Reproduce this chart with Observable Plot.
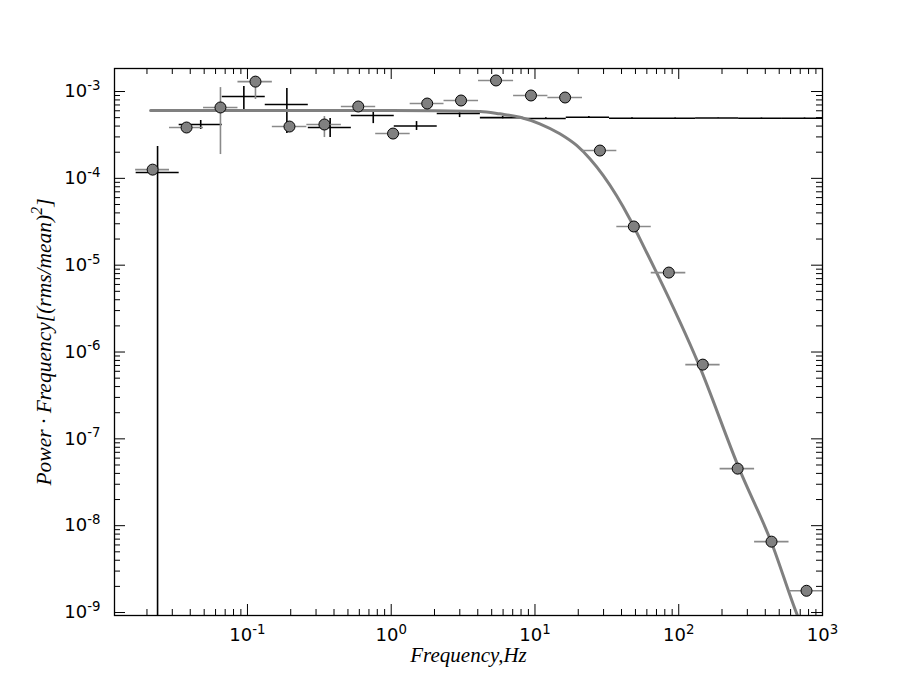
<!DOCTYPE html>
<html><head><meta charset="utf-8">
<script src="https://cdn.jsdelivr.net/npm/d3@7"></script>
<script src="https://cdn.jsdelivr.net/npm/@observablehq/plot@0.6"></script>
<style>html,body{margin:0;padding:0;background:#fff;overflow:hidden}#chart svg{display:block}</style>
</head><body><div id="chart"></div>
<script>
// ---- gray series (filled circles) ----
const grayFreq   = [0.0219,0.0377,0.0649,0.1137,0.196,0.343,0.590,1.03,1.78,3.06,5.36,9.38,16.2,28.3,48.7,85.3,147,257,442,774];
const grayPower  = [1.26e-4,3.85e-4,6.55e-4,1.30e-3,3.95e-4,4.17e-4,6.72e-4,3.28e-4,7.27e-4,7.88e-4,1.34e-3,9.0e-4,8.53e-4,2.09e-4,2.79e-5,8.22e-6,7.16e-7,4.54e-8,6.55e-9,1.78e-9];
const grayLo     = [1.10e-4,3.6e-4,1.88e-4,8.09e-4,3.6e-4,2.95e-4,6.3e-4,3.1e-4,6.95e-4,7.6e-4,1.30e-3,8.8e-4,8.35e-4,2.05e-4,2.74e-5,8.1e-6,7.05e-7,4.47e-8,6.45e-9,1.75e-9];
const grayHi     = [1.40e-4,4.1e-4,1.11e-3,1.49e-3,4.3e-4,5.15e-4,7.1e-4,3.45e-4,7.6e-4,8.15e-4,1.38e-3,9.2e-4,8.7e-4,2.13e-4,2.84e-5,8.35e-6,7.27e-7,4.61e-8,6.65e-9,1.81e-9];
const grayEdges  = [0.01668,0.0287,0.0495,0.0859,0.149,0.259,0.450,0.780,1.355,2.33,4.05,7.10,12.3,21.4,37.1,64.4,112,194,337,585,1016];

// ---- black series (crosses) ----
const blackFreq  = [0.0237,0.0473,0.0944,0.188,0.376,0.750,1.50,2.99,5.96,11.9,23.7,47.3,94.4,188,376,750];
const blackPower = [1.17e-4,4.17e-4,8.75e-4,7.08e-4,3.85e-4,5.29e-4,4.01e-4,5.58e-4,5.01e-4,4.89e-4,5.06e-4,4.93e-4,4.92e-4,4.95e-4,4.93e-4,4.92e-4];
const blackLo    = [1e-15,3.65e-4,5.73e-4,3.28e-4,2.95e-4,4.27e-4,3.56e-4,5.01e-4,4.85e-4,4.80e-4,4.98e-4,4.87e-4,4.88e-4,4.91e-4,4.90e-4,4.89e-4];
const blackHi    = [2.32e-4,4.64e-4,1.14e-3,1.08e-3,4.89e-4,5.73e-4,4.51e-4,5.73e-4,5.18e-4,4.98e-4,5.14e-4,4.99e-4,4.96e-4,4.99e-4,4.96e-4,4.95e-4];
const blackEdges = [0.01682,0.0335,0.0668,0.133,0.265,0.528,1.05,2.09,4.17,8.30,16.5,33.0,65.7,131,261,519,1035];

// ---- fitted model curve ----
const fitFreq  = [0.0212,1.0,4.15,5.71,7.87,10.8,14.9,19.5,24.1,29.8,36.9,45.7,59.7,70.0,138,265,442,670,762];
const fitPower = [6.04e-4,6.04e-4,5.89e-4,5.53e-4,5.06e-4,4.25e-4,3.26e-4,2.39e-4,1.68e-4,1.08e-4,6.34e-5,3.41e-5,1.41e-5,8.28e-6,7.16e-7,4.42e-8,6.37e-9,9.2e-10,5.5e-10];

// ---- axes ----
const xMajor = [0.1,1,10,100,1000];
const yMajor = [1e-9,1e-8,1e-7,1e-6,1e-5,1e-4,1e-3];
const xDomain = [0.01189,1000];
const yDomain = [9.24e-10,1.841e-3];
const xLabel = "Frequency,Hz";
const yLabel = "Power · Frequency[(rms/mean)^2]";

const gray = grayFreq.map((f,i)=>({f,p:grayPower[i],lo:grayLo[i],hi:grayHi[i],x1:grayEdges[i],x2:grayEdges[i+1]}));
const black = blackFreq.map((f,i)=>({f,p:blackPower[i],lo:blackLo[i],hi:blackHi[i],x1:blackEdges[i],x2:blackEdges[i+1]}));
const fit = fitFreq.map((f,i)=>({f,p:fitPower[i]}));

const xMinor = d3.scaleLog().domain(xDomain).ticks().filter(v=>!xMajor.some(m=>Math.abs(m-v)/m<1e-9));
const yMinor = d3.scaleLog().domain(yDomain).ticks().filter(v=>!yMajor.some(m=>Math.abs(m-v)/m<1e-9));

const W = 913, H = 685, mT = 68, mR = 91, mB = 70, mL = 114;
const PW = W - mL - mR, PH = H - mT - mB;
const major = 11, minor = 6;
const expFmt = d => "10^" + Math.round(Math.log10(d));

const chart = Plot.plot({
  width: W, height: H,
  marginTop: mT, marginRight: mR, marginBottom: mB, marginLeft: mL,
  style: {fontFamily: "DejaVu Sans", fontSize: "18px", background: "#fff", color: "black"},
  x: {type: "log", domain: xDomain},
  y: {type: "log", domain: yDomain},
  marks: [
    // black crosses
    Plot.ruleY(black, {y: "p", x1: "x1", x2: "x2", stroke: "black", strokeWidth: 1.6, clip: true}),
    Plot.ruleX(black, {x: "f", y1: "lo", y2: "hi", stroke: "black", strokeWidth: 1.6, clip: true}),
    // fitted curve
    Plot.line(fit, {x: "f", y: "p", stroke: "#808080", strokeWidth: 3, curve: "monotone-x", clip: true}),
    // gray points with error bars
    Plot.ruleY(gray, {y: "p", x1: "x1", x2: "x2", stroke: "#8a8a8a", strokeWidth: 1.6, clip: true}),
    Plot.ruleX(gray, {x: "f", y1: "lo", y2: "hi", stroke: "#8a8a8a", strokeWidth: 1.6, clip: true}),
    Plot.dot(gray, {x: "f", y: "p", r: 5.5, fill: "#808080", stroke: "black", strokeWidth: 1, clip: true}),
    // frame and inward ticks
    Plot.frame({stroke: "black", strokeWidth: 1.3}),
    Plot.ruleX(xMajor, {x: d=>d, insetTop: PH - major, stroke: "black"}),
    Plot.ruleX(xMajor, {x: d=>d, insetBottom: PH - major, stroke: "black"}),
    Plot.ruleX(xMinor, {x: d=>d, insetTop: PH - minor, stroke: "black"}),
    Plot.ruleX(xMinor, {x: d=>d, insetBottom: PH - minor, stroke: "black"}),
    Plot.ruleY(yMajor, {y: d=>d, insetRight: PW - major, stroke: "black"}),
    Plot.ruleY(yMajor, {y: d=>d, insetLeft: PW - major, stroke: "black"}),
    Plot.ruleY(yMinor, {y: d=>d, insetRight: PW - minor, stroke: "black"}),
    Plot.ruleY(yMinor, {y: d=>d, insetLeft: PW - minor, stroke: "black"}),
    // tick labels
    Plot.axisX({anchor: "bottom", ticks: xMajor, tickFormat: expFmt, tickSize: 0, tickPadding: 13, label: null, fontSize: 18}),
    Plot.axisY({anchor: "left", ticks: yMajor, tickFormat: expFmt, tickSize: 0, tickPadding: 14, label: null, fontSize: 18}),
    // axis titles
    Plot.text([xLabel], {text: d=>d, frameAnchor: "bottom", dy: 46, fontSize: 21, fontStyle: "italic", fontFamily: "Liberation Serif", textAnchor: "middle"}),
    Plot.text([yLabel], {text: d=>d, frameAnchor: "left", dx: -70, rotate: -90, fontSize: 21.5, fontStyle: "italic", fontFamily: "Liberation Serif", textAnchor: "middle"})
  ]
});

// render "a^b" as base + superscript
d3.select(chart).selectAll("text").each(function(){
  const t = this.textContent;
  if (!t.includes("^")) return;
  const sel = d3.select(this);
  const isTick = /^10\^/.test(t);
  let base, sup, rest = "";
  if (isTick) { [base, sup] = t.split("^"); }
  else { const m = t.match(/^(.*)\^(\S)(.*)$/); base = m[1]; sup = m[2]; rest = m[3] || ""; }
  sel.text(null);
  sel.append("tspan").text(base);
  sel.append("tspan").attr("dy", isTick ? "-0.55em" : "-0.6em").attr("font-size", "0.74em").text(sup);
  if (rest) sel.append("tspan").attr("dy", "0.44em").text(rest);
});

document.getElementById("chart").appendChild(chart);
</script>
</body></html>
